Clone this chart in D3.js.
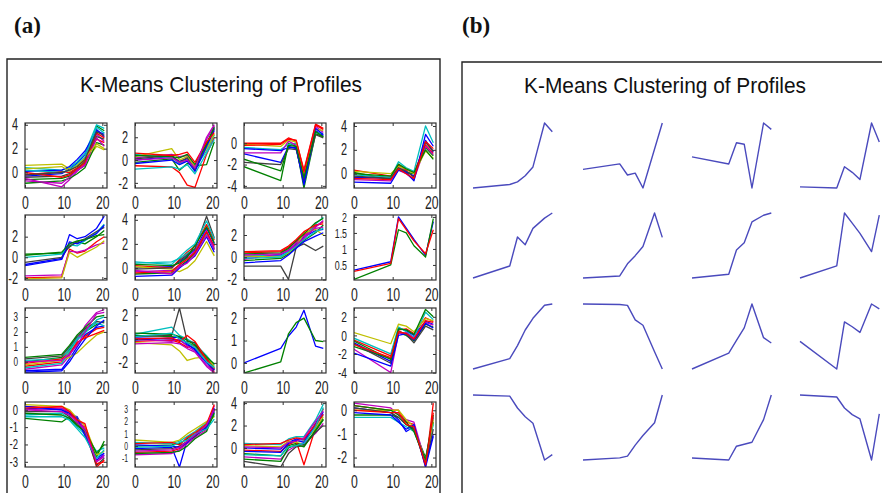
<!DOCTYPE html>
<html>
<head>
<meta charset="utf-8">
<script src="https://cdn.jsdelivr.net/npm/d3@7"></script>
<style>
  html, body { margin: 0; padding: 0; background: #fff; }
  svg { display: block; }
</style>
</head>
<body>
<svg id="fig" width="882" height="493"></svg>
<script>
// Sampling times (hours) of the expression profiles
const times = [0, 9.5, 11.5, 13.5, 15.5, 18.5, 20.5];
const xTicks = [0, 10, 20];
const xDomain = [0, 21.2];

// MATLAB-style line colour cycle
const lineColors = ["#0000ff", "#008000", "#ff0000", "#00bfbf", "#bf00bf", "#bfbf00", "#404040"];

// y limits and y ticks of each of the 16 cluster axes
const yDomains = [
  [-1.3, 4.15], [-2.45, 3.25], [-4.2, 1.9], [-1.2, 4.25],
  [-2.2, 4.1], [-1, 4.4], [-2.05, 3.8], [0.03, 2.06],
  [-0.75, 3.6], [-2.85, 2.6], [-0.45, 2.45], [-4.05, 2.95],
  [-3.3, 0.45], [-1.7, 3.6], [-1.7, 4.1], [-2.4, 0.35]
];
const yTicks = [
  [0, 2, 4], [-2, 0, 2], [-4, -2, 0], [0, 2, 4],
  [-2, 0, 2], [0, 2, 4], [-2, 0, 2], [0.5, 1, 1.5, 2],
  [0, 1, 2, 3], [-2, 0, 2], [0, 1, 2], [-4, -2, 0, 2],
  [-3, -2, -1, 0], [-1, 0, 1, 2, 3], [0, 2, 4], [-2, -1, 0]
];

// Cluster centroids (one profile per cluster)
const centroids = [
  [-0.4, -0.2, -0.05, 0.3, 0.8, 3.3, 2.8],
  [0, 0.3, -0.3, -0.2, -1, 1.1, 2.5],
  [-1.1, -1.6, -0.1, -0.2, -3.3, 1.3, 0.85],
  [-0.25, -0.3, 0.65, 0.4, 0.08, 2.6, 1.75],
  [-1, -0.3, 1.4, 0.95, 1.9, 2.5, 2.8],
  [-0.1, 0, 0.6, 1.0, 1.45, 3.1, 1.9],
  [-0.1, 0.07, 1.15, 1.47, 2.4, 2.7, 2.8],
  [0.25, 0.55, 1.85, 1.6, 1.35, 0.9, 1.8],
  [-0.1, 0.3, 0.8, 1.4, 1.85, 2.35, 2.4],
  [0.05, 0.03, 0, -0.55, -0.75, -1.75, -2.4],
  [-0.15, 0.45, 0.93, 1.4, 2.3, 1.03, 0.83],
  [-0.8, -2.5, 0.4, 0.1, -0.25, 1.5, 1.2],
  [0.1, 0.05, -0.5, -0.9, -1.2, -2.9, -2.65],
  [-0.25, -0.15, -0.07, 0.45, 0.9, 1.5, 2.8],
  [-0.3, -0.4, 0.3, 0.4, 0.5, 1.65, 2.9],
  [0.05, -0.02, -0.4, -0.63, -0.78, -2.2, -0.6]
];

// Member profiles of each cluster
const cluster01 = [
  [-0.3, -0.1, 0.3, 0.8, 1.5, 3.6, 3.0], [-0.6, -0.5, -0.3, 0.2, 0.6, 3.9, 3.5],
  [-0.2, 0.1, 0.0, 0.4, 1.0, 2.8, 2.5], [0.4, 0.2, 0.4, 0.9, 1.6, 4.0, 3.7],
  [-0.5, -1.2, -0.6, 0.1, 0.7, 3.2, 2.6], [0.6, 0.7, 0.3, 0.5, 0.9, 2.2, 1.9],
  [-0.4, -0.3, -0.1, 0.3, 0.9, 3.0, 2.8], [0.1, 0.2, 0.5, 1.1, 1.8, 3.5, 3.2],
  [-0.9, -0.7, -0.5, -0.1, 0.4, 2.5, 2.3], [0.0, -0.4, -0.2, 0.3, 0.8, 3.3, 2.9],
  [0.2, 0.0, 0.2, 0.7, 1.3, 3.8, 3.3], [-0.7, -0.9, -0.4, 0.2, 0.6, 2.9, 2.2],
  [0.3, 0.5, 0.1, 0.6, 1.2, 2.4, 2.0], [-0.2, 0.0, 0.2, 0.5, 1.1, 3.4, 3.1]
];
const cluster02 = [
  [0.0, 0.3, -0.1, 0.1, -0.8, 1.3, 2.8], [-0.2, 0.1, -0.9, -0.3, -0.5, -0.4, 1.6],
  [-0.5, -0.6, -1.1, -2.2, -2.4, 0.5, 2.0], [0.5, 0.2, -0.3, 0.0, -0.7, 0.8, 2.2],
  [0.2, 0.5, 0.3, 0.4, -0.6, 1.8, 3.0], [0.3, 1.0, 0.0, 0.3, -0.6, 1.0, 2.3],
  [0.1, 0.4, -0.2, 0.2, -0.9, 1.5, 2.7], [-0.3, 0.0, -0.4, -0.1, -1.0, 1.2, 2.6],
  [0.4, 0.3, 0.2, 0.5, -0.4, 1.4, 2.9], [0.6, 0.4, 0.5, 0.7, -0.2, 1.6, 2.4],
  [-0.8, -0.6, -0.8, -0.4, -1.2, 0.6, 1.8], [0.0, 0.2, -0.2, 0.0, -0.7, 2.0, 3.1]
];
const cluster03 = [
  [-1.0, -1.8, -0.3, -0.5, -3.5, 1.2, 0.7], [-2.2, -3.5, 0.0, -0.3, -4.2, 0.9, 0.6],
  [0.0, 0.0, 0.5, 0.2, -2.5, 1.8, 1.4], [-0.4, -0.6, -0.1, 0.0, -3.8, 1.0, 0.9],
  [-0.9, -0.9, 0.2, -0.2, -3.0, 1.6, 1.0], [-0.1, -0.3, 0.3, 0.1, -2.8, 1.3, 1.2],
  [-1.8, -2.0, -0.5, -0.6, -3.6, 0.8, 0.5], [-0.5, -0.7, -0.4, -0.4, -3.9, 1.4, 0.8],
  [-1.5, -2.6, -0.2, -0.3, -3.2, 1.1, 0.6], [-0.2, -0.1, 0.4, 0.3, -2.7, 1.7, 1.3]
];
const cluster04 = [
  [-0.3, -0.4, 0.5, 0.2, -0.2, 2.8, 1.8], [0.1, -0.5, 0.4, 0.1, 0.0, 2.2, 1.5],
  [0.3, -0.2, 0.7, 0.3, 0.1, 2.4, 1.7], [-0.1, -0.3, 1.0, 0.5, 0.2, 4.0, 2.6],
  [-0.5, -0.6, 0.3, 0.0, -0.5, 2.3, 1.6], [0.2, 0.0, 0.6, 0.4, 0.0, 1.9, 1.3],
  [-0.2, -0.4, 0.5, 0.2, -0.3, 2.6, 1.9], [-0.7, -0.8, 0.3, 0.1, -0.6, 3.3, 2.3],
  [0.0, -0.2, 0.8, 0.4, 0.1, 2.0, 1.2], [-0.4, -0.5, 0.4, 0.0, -0.4, 2.7, 2.1]
];
const cluster05 = [
  [-0.7, -0.1, 2.2, 1.8, 2.0, 2.8, 4.0], [0.3, 0.4, 1.0, 1.5, 1.3, 2.0, 2.6],
  [-2.0, -1.9, 0.8, 0.4, 0.6, 1.5, 2.0], [0.0, 0.3, 1.2, 1.1, 1.6, 2.4, 3.2],
  [-1.8, -1.7, 0.6, 0.5, 0.7, 1.2, 1.4], [-2.1, -2.0, 0.5, 0.0, 0.4, 1.0, 1.6],
  [-0.5, 0.0, 1.1, 1.5, 1.8, 2.5, 2.9], [-0.8, -0.2, 1.5, 1.3, 1.7, 2.3, 3.1],
  [0.2, 0.5, 1.3, 1.6, 1.7, 2.1, 2.2]
];
const cluster06 = [
  [0.0, 0.1, 0.5, 1.0, 1.5, 3.3, 2.0], [-0.5, -0.4, 0.1, 0.6, 1.2, 2.9, 1.6],
  [0.2, 0.0, 0.7, 1.3, 1.8, 3.6, 2.3], [0.4, 0.5, 0.8, 1.2, 1.6, 2.8, 1.9],
  [-0.3, -0.2, 0.2, 0.8, 1.4, 3.1, 1.5], [0.1, -0.1, -0.3, 0.0, 0.6, 2.2, 1.0],
  [-0.1, 0.0, 0.6, 1.1, 1.6, 4.3, 2.5], [-0.7, -0.6, 0.0, 0.5, 1.0, 2.6, 1.3],
  [0.3, 0.2, 0.4, 0.9, 1.9, 3.4, 2.1], [-0.4, -0.3, 0.3, 0.7, 1.3, 3.0, 1.8],
  [0.5, 0.3, 0.9, 1.5, 2.0, 3.9, 2.4], [-0.2, -0.5, 0.1, 0.4, 1.1, 2.7, 1.7]
];
const cluster07 = [
  [0.0, 0.2, 0.6, 1.2, 1.8, 2.4, 2.5], [-0.3, -0.1, 0.3, 0.9, 1.5, 2.2, 2.9],
  [0.4, 0.5, 0.9, 1.4, 2.0, 2.8, 3.2], [0.2, 0.1, 0.5, 1.1, 1.7, 3.0, 3.6],
  [-0.2, 0.3, 0.7, 1.3, 1.9, 2.6, 2.7], [0.1, 0.0, 0.4, 1.0, 2.2, 2.5, 2.0],
  [-0.8, -0.8, -2.0, 0.9, 1.2, 0.6, 1.0], [-0.5, -0.3, 0.2, 0.8, 1.4, 1.9, 2.2],
  [0.3, 0.4, 0.8, 1.5, 2.1, 3.1, 3.5], [0.5, 0.6, 1.0, 1.6, 2.3, 2.9, 3.0],
  [-0.1, 0.0, 0.5, 1.0, 1.6, 2.3, 2.6], [0.2, 0.3, 0.6, 1.1, 1.7, 2.7, 3.3]
];
const cluster08 = [
  [0.34, 0.6, 2.0, 1.65, 1.3, 0.8, 1.85], [0.05, 0.5, 1.6, 1.5, 1.1, 0.75, 1.95],
  [0.3, 0.55, 1.95, 1.6, 1.25, 0.85, 1.6]
];
const cluster09 = [
  [-0.6, -0.5, 0.2, 1.0, 1.8, 2.3, 2.4], [0.0, 0.3, 0.8, 1.5, 2.0, 2.5, 2.7],
  [-0.3, 0.0, 0.5, 1.2, 1.7, 2.2, 2.3], [0.1, 0.2, 0.9, 1.6, 2.1, 2.6, 2.4],
  [-0.5, -0.2, 0.4, 1.4, 2.4, 3.3, 3.5], [-0.2, 0.1, 0.3, 0.6, 1.1, 1.8, 2.0],
  [0.2, 0.4, 1.0, 1.7, 2.2, 2.7, 2.6], [-0.7, -0.6, 0.0, 0.8, 1.5, 2.4, 2.8],
  [0.3, 0.5, 1.1, 1.8, 2.3, 3.0, 3.1], [-0.1, 0.2, 0.6, 1.3, 1.6, 1.9, 2.1],
  [-0.4, -0.1, 0.7, 1.5, 1.9, 2.8, 3.0], [0.0, 0.1, 0.5, 1.1, 2.0, 3.2, 3.3]
];
const cluster10 = [
  [0.1, 0.0, -0.1, -0.5, -0.8, -1.8, -2.5], [0.3, 0.2, 0.1, -0.3, -0.6, -1.6, -2.4],
  [-0.2, -0.1, -0.3, -0.7, -0.5, -1.9, -2.8], [0.4, 1.0, 0.3, 0.0, -0.4, -1.4, -2.2],
  [0.0, -0.2, 0.0, -0.6, -1.0, -2.2, -2.7], [-0.3, -0.5, -1.0, -1.8, -1.6, -1.5, -2.3],
  [0.2, 0.3, 2.6, -0.2, -0.3, -1.7, -2.6], [-0.1, 0.1, 0.2, -0.4, -0.9, -2.0, -2.6],
  [0.5, 0.4, 0.2, -0.1, -0.5, -1.5, -2.1], [0.0, 0.1, -0.2, 0.3, -0.2, -1.7, -2.5],
  [0.2, 0.5, 0.0, -0.3, -0.7, -1.9, -2.4], [-0.4, -0.3, -0.4, -0.8, -1.1, -2.3, -2.85]
];
const cluster11 = [
  [0.0, 0.65, 1.2, 1.6, 2.35, 0.75, 0.65], [-0.45, 0.05, 1.3, 1.8, 2.0, 1.0, 0.95]
];
const cluster12 = [
  [-0.8, -2.8, 0.8, 0.5, 0.0, 1.5, 1.2], [-1.2, -2.5, 0.3, 0.0, -0.6, 1.2, 0.9],
  [-0.5, -2.2, 0.6, 0.7, 0.2, 1.9, 1.5], [-0.3, -2.0, 0.9, 0.4, -0.2, 2.5, 1.7],
  [-1.5, -4.0, 0.2, 0.3, -0.3, 1.4, 1.1], [0.3, -0.9, 1.2, 1.0, 0.4, 1.8, 1.6],
  [-0.9, -3.0, 0.5, 0.1, -0.8, 1.0, 0.6], [-1.9, -3.3, 0.0, 0.2, -0.5, 1.3, 0.8],
  [-0.6, -2.6, 0.7, 0.6, 0.1, 2.8, 2.0], [-1.0, -2.4, 0.4, 0.2, -0.4, 1.6, 1.4]
];
const cluster13 = [
  [0.1, 0.0, -0.3, -0.4, -1.2, -2.8, -2.5], [-0.5, -0.7, -0.4, -0.9, -1.3, -2.7, -1.8],
  [0.2, 0.1, -0.2, -0.7, -1.0, -3.3, -2.9], [-0.3, -0.2, -0.5, -1.0, -1.4, -2.4, -2.2],
  [0.0, 0.1, -0.1, -0.6, -1.1, -3.0, -2.7], [0.3, 0.2, 0.0, -0.5, -0.9, -2.6, -2.4],
  [-0.1, -0.1, -0.4, -0.8, -1.3, -3.2, -2.8], [0.2, 0.0, -0.2, -0.5, -1.5, -2.9, -2.6],
  [-0.2, -0.3, -0.5, -0.9, -1.2, -2.5, -2.0], [0.1, 0.2, -0.1, -0.6, -0.8, -3.1, -3.0],
  [-0.4, -0.4, -0.6, -1.1, -1.6, -2.8, -2.3], [0.0, -0.1, -0.3, -0.7, -1.2, -3.0, -2.6]
];
const cluster14 = [
  [-0.2, -0.1, -1.7, 0.5, 0.8, 1.5, 2.8], [0.0, 0.1, 0.2, 0.6, 1.0, 1.7, 2.5],
  [-0.5, -0.4, -0.2, 0.3, 0.9, 1.4, 3.0], [0.3, 0.2, 0.4, 0.8, 1.2, 1.9, 2.6],
  [-0.7, -0.6, -0.3, 0.2, 0.7, 1.3, 3.3], [0.5, 0.3, 0.5, 1.0, 1.4, 2.0, 2.4],
  [-0.3, -0.2, 0.0, 0.4, 0.8, 1.6, 2.9], [0.1, 0.0, -0.1, 0.3, 0.9, 1.5, 3.1],
  [-0.6, -0.5, -0.4, 0.0, 0.6, 1.2, 2.7], [0.2, 0.3, 0.1, 0.7, 1.1, 1.8, 3.4],
  [-0.1, 0.0, 0.3, 0.5, 1.0, 1.4, 2.2], [-0.4, -0.3, -0.1, 0.4, 0.9, 1.7, 3.0]
];
const cluster15 = [
  [0.0, -0.1, 0.5, 0.8, 0.7, 2.0, 3.0], [-0.5, -0.7, 0.2, 0.4, 0.3, 1.5, 2.5],
  [-0.2, -0.3, 0.3, 0.6, -1.5, 1.8, 3.5], [0.4, 0.3, 0.8, 1.0, 1.0, 2.5, 3.9],
  [-0.8, -1.0, -0.2, 0.2, 0.4, 1.3, 2.2], [0.2, 0.1, 0.6, 0.5, 0.6, 1.7, 2.8],
  [-1.2, -1.7, -0.5, 0.1, 0.2, 1.4, 2.0], [-0.3, -0.4, 0.4, 0.7, 0.5, 2.2, 3.2],
  [-1.0, -1.2, 0.0, 0.3, 0.1, 1.6, 2.6], [0.3, 0.4, 0.7, 0.9, 0.8, 2.1, 3.0],
  [-0.6, -0.7, 0.1, 0.2, 0.4, 1.9, 3.6], [0.1, 0.0, 0.5, 0.6, 0.9, 2.4, 3.3]
];
const cluster16 = [
  [0.1, -0.1, -0.4, -0.9, -0.7, -2.3, -1.0], [-0.2, -0.2, -0.3, -0.6, -0.8, -2.0, -0.5],
  [0.2, 0.0, 0.0, -0.5, -0.6, -2.4, 0.3], [-0.3, -0.3, -0.5, -0.7, -0.9, -2.1, -0.6],
  [0.3, 0.1, -0.2, -0.4, -0.5, -2.2, -0.3], [0.0, 0.0, 0.0, -0.4, -0.7, -2.2, -0.4],
  [0.1, -0.1, -0.3, -0.6, -0.8, -2.3, -0.8], [-0.1, -0.2, -0.5, -0.8, -0.6, -2.4, -1.1],
  [0.2, 0.0, -0.2, -0.5, -0.9, -2.1, -0.2], [0.0, -0.1, -0.1, -0.6, -0.7, -2.3, -0.1]
];

const clusters = [cluster01, cluster02, cluster03, cluster04, cluster05, cluster06, cluster07, cluster08,
                  cluster09, cluster10, cluster11, cluster12, cluster13, cluster14, cluster15, cluster16];

// ---- layout ----
const plotW = 82, plotH = 65;
const aCols = [25, 135, 244, 354], aRows = [123, 215, 308, 402];
const bCols = [473, 583, 692, 800], bRows = [123, 213, 304, 395];

const svg = d3.select("#fig");
svg.append("rect").attr("width", 882).attr("height", 493).attr("fill", "#fff");

// Panel frames
svg.append("path").attr("d", "M7,496 V59 H440 V496")
  .attr("fill", "none").attr("stroke", "#222").attr("stroke-width", 1.4);
svg.append("path").attr("d", "M462,496 V62 H884")
  .attr("fill", "none").attr("stroke", "#222").attr("stroke-width", 1.4);

// Panel letters
svg.append("text").attr("x", 14).attr("y", 33).text("(a)")
  .attr("font-family", "'Liberation Serif', 'DejaVu Serif', serif")
  .attr("font-weight", "bold").attr("font-size", 23).attr("fill", "#111");
svg.append("text").attr("x", 462).attr("y", 33).text("(b)")
  .attr("font-family", "'Liberation Serif', 'DejaVu Serif', serif")
  .attr("font-weight", "bold").attr("font-size", 23).attr("fill", "#111");

// Figure titles
[[221, 92], [665, 93]].forEach(([cx, by]) => {
  svg.append("text").attr("x", cx).attr("y", by).attr("text-anchor", "middle")
    .attr("font-family", "'Liberation Sans', Arial, sans-serif").attr("font-size", 22)
    .attr("textLength", 282).attr("lengthAdjust", "spacingAndGlyphs")
    .attr("fill", "#111").text("K-Means Clustering of Profiles");
});

const x = d3.scaleLinear().domain(xDomain).range([0, plotW]);
const defs = svg.append("defs");
defs.append("clipPath").attr("id", "plotclip")
  .append("rect").attr("x", 0).attr("y", 0).attr("width", plotW).attr("height", plotH);

const labelFont = "'Liberation Sans', Arial, sans-serif";
const squeeze = 0.68;

// (a) member profiles with axes
clusters.forEach((members, i) => {
  const g = svg.append("g")
    .attr("transform", `translate(${aCols[i % 4]},${aRows[Math.floor(i / 4)]})`);
  const y = d3.scaleLinear().domain(yDomains[i]).range([plotH, 0]);
  const line = d3.line().x((d, j) => x(times[j])).y(d => y(d));

  g.append("g").attr("clip-path", "url(#plotclip)")
    .selectAll("path").data(members).join("path")
    .attr("d", line).attr("fill", "none")
    .attr("stroke", (d, j) => lineColors[j % lineColors.length])
    .attr("stroke-width", 1.3).attr("stroke-linejoin", "round");

  const bottom = g.append("g").attr("transform", `translate(0,${plotH})`)
    .call(d3.axisBottom(x).tickValues(xTicks).tickSizeInner(-3).tickSizeOuter(0).tickPadding(8));
  g.append("g").call(d3.axisTop(x).tickValues(xTicks).tickSizeInner(-3).tickSizeOuter(0).tickFormat(""));
  const left = g.append("g")
    .call(d3.axisLeft(y).tickValues(yTicks[i]).tickSizeInner(-3).tickSizeOuter(0).tickFormat(d => String(d)));
  g.append("g").attr("transform", `translate(${plotW},0)`)
    .call(d3.axisRight(y).tickValues(yTicks[i]).tickSizeInner(-3).tickSizeOuter(0).tickFormat(""));

  g.selectAll(".domain").remove();
  g.selectAll(".tick line").attr("stroke", "#333");

  // label size follows the spacing of the y ticks so neighbours never collide
  const ySpacing = Math.abs(y(yTicks[i][1]) - y(yTicks[i][0]));
  const ySize = Math.min(16, Math.floor(ySpacing / 1.2));

  bottom.selectAll("text")
    .attr("font-family", labelFont).attr("font-size", 18).attr("fill", "#222")
    .attr("transform", `scale(${squeeze},1)`);
  left.selectAll("text")
    .attr("font-family", labelFont).attr("font-size", ySize).attr("fill", "#222")
    .attr("x", -7 / squeeze).attr("transform", `scale(${squeeze},1)`);

  g.append("rect").attr("width", plotW).attr("height", plotH)
    .attr("fill", "none").attr("stroke", "#333").attr("stroke-width", 1.2);
});

// (b) cluster centroids, each on its own tight scale, no axes
centroids.forEach((c, i) => {
  const g = svg.append("g")
    .attr("transform", `translate(${bCols[i % 4]},${bRows[Math.floor(i / 4)]})`);
  const y = d3.scaleLinear().domain(d3.extent(c)).range([plotH, 0]);
  const line = d3.line().x((d, j) => x(times[j])).y(d => y(d));
  g.append("path").datum(c).attr("d", line)
    .attr("fill", "none").attr("stroke", "#4a4abd").attr("stroke-width", 1.4)
    .attr("stroke-linejoin", "round");
});
</script>
</body>
</html>
